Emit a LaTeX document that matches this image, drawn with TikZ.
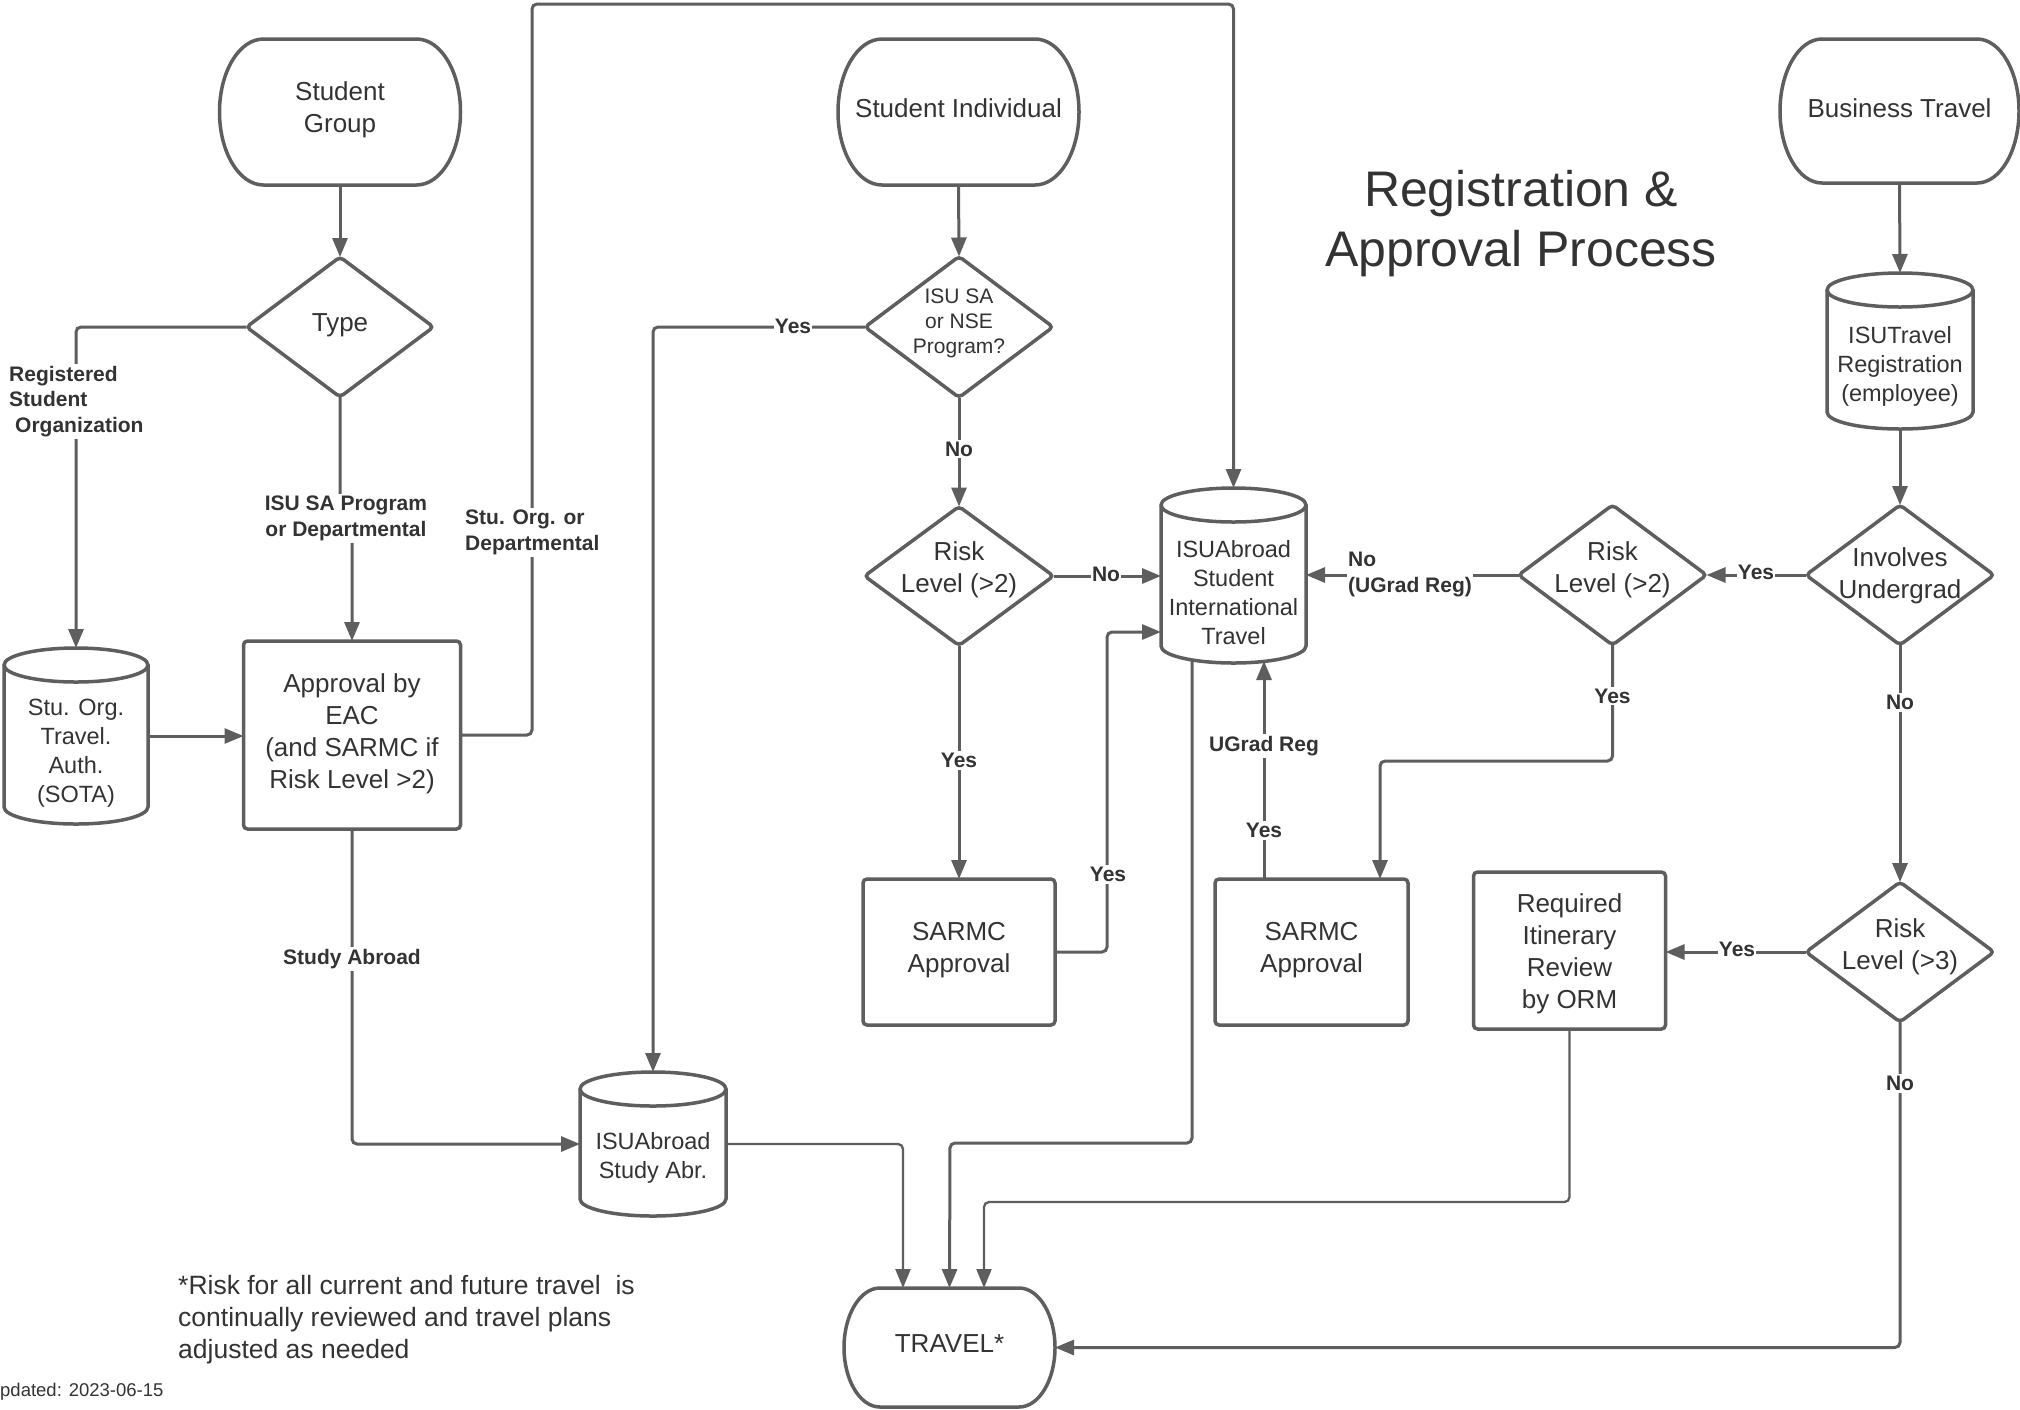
\documentclass[tikz,border=0pt]{standalone}
\usepackage{fontspec}
\setmainfont{Liberation Sans}
\usetikzlibrary{arrows.meta}
\definecolor{ln}{HTML}{5E5E5E}
\definecolor{tx}{HTML}{333333}
\tikzset{
  box/.style={draw=none, inner sep=0pt, outer sep=0pt},
  shp/.style={draw=ln, line width=3.5pt},
  txt/.style={text=tx, align=center, inner sep=0pt, font=\fontsize{26}{32}\selectfont},
  ctxt/.style={txt, font=\fontsize{23.5}{29}\selectfont},
  conn/.style={draw=ln, line width=3pt, rounded corners=5pt, -{Triangle[length=19pt,width=15pt]}},
  thinconn/.style={conn, line width=2.3pt},
  lbl/.style={text=tx, font=\fontsize{21}{25.5}\selectfont\bfseries, fill=white, inner sep=2pt, align=center},
}
% terminal: name, x, y, w, h, rx, text
\newcommand\termnode[8][]{%
  \node[box, minimum width=#5pt, minimum height=#6pt] (#2) at (#3,#4) {};
  \draw[shp] ([xshift=#7pt]#2.north west) -- ([xshift=-#7pt]#2.north east)
    arc[start angle=90, end angle=-90, x radius=#7pt, y radius=0.5*#6pt]
    -- ([xshift=#7pt]#2.south west)
    arc[start angle=270, end angle=90, x radius=#7pt, y radius=0.5*#6pt] -- cycle;
  \node[txt, #1] (#2-t) at (#2.center) {#8};
}
% cylinder: name, x, y, w, h, ry, text
\newcommand\cylnode[8][]{%
  \node[box, minimum width=#5pt, minimum height=#6pt] (#2) at (#3,#4) {};
  \draw[shp] ([yshift=-#7pt]#2.north west) -- ([yshift=#7pt]#2.south west)
    arc[start angle=180, end angle=360, x radius=0.5*#5pt, y radius=#7pt]
    -- ([yshift=-#7pt]#2.north east)
    arc[start angle=0, end angle=180, x radius=0.5*#5pt, y radius=#7pt] -- cycle;
  \draw[shp] ([yshift=-#7pt]#2.north west)
    arc[start angle=180, end angle=360, x radius=0.5*#5pt, y radius=#7pt];
  \node[ctxt, #1] (#2-t) at (#2.center) {#8};
}
% diamond: name, x, y, w, h, text
\newcommand\dianode[7][]{%
  \node[box, minimum width=#5pt, minimum height=#6pt] (#2) at (#3,#4) {};
  \draw[shp, rounded corners=4pt] (#2.north) -- (#2.east) -- (#2.south) -- (#2.west) -- cycle;
  \node[txt, #1] (#2-t) at (#2.center) {#7};
}
% rectangle: name, x, y, w, h, text
\newcommand\rectnode[7][]{%
  \node[box, shp, rounded corners=4pt, minimum width=#5pt, minimum height=#6pt] (#2) at (#3,#4) {};
  \node[txt, #1] (#2-t) at (#2.center) {#7};
}
\begin{document}
\begin{tikzpicture}[x=1pt, y=-1pt]
\useasboundingbox (0,0) rectangle (2020,1409);
\fill[white] (0,0) rectangle (2020,1409);

% title
\node[text=tx, align=center, inner sep=0pt, font=\fontsize{50}{60}\selectfont] (title) at (1521,224) {Registration \&\\Approval Process};

% terminals
\termnode[yshift=2.5pt]{sg}{340}{112}{241}{146}{44}{Student\\Group}
\termnode[yshift=4pt]{si}{958.5}{112}{241}{146}{44}{Student Individual}
\termnode[yshift=3pt]{bt}{1899.5}{111}{239}{144}{42}{Business Travel}
\termnode[yshift=4pt]{travel}{949.5}{1347.5}{211}{119}{36}{TRAVEL*}

% diamonds
\dianode[yshift=1.5pt]{type}{340}{327}{187}{140}{Type}
\dianode[yshift=4pt, font=\fontsize{21}{25}\selectfont]{isusa}{959}{327}{188}{141}{ISU SA\\or NSE\\Program?}
\dianode[yshift=6pt]{riska}{959}{576}{189}{139}{Risk\\Level (>2)}
\dianode[yshift=5.5pt]{riskb}{1612.5}{575}{188}{140}{Risk\\Level (>2)}
\dianode[yshift=-0.5pt]{inv}{1900}{575}{188}{140}{Involves\\Undergrad}
\dianode[yshift=5.5pt]{riskc}{1900}{952}{188}{140}{Risk\\Level (>3)}

% rectangles
\rectnode[yshift=1.5pt]{eac}{352}{735}{217}{188}{Approval by\\EAC\\(and SARMC if\\Risk Level >2)}
\rectnode[yshift=1.5pt]{sarmca}{959}{952}{192}{146}{SARMC\\Approval}
\rectnode[yshift=1.5pt]{sarmcb}{1311.5}{952}{193}{146}{SARMC\\Approval}
\rectnode[yshift=-3pt]{orm}{1569.5}{950.5}{192}{157}{Required\\Itinerary\\Review\\by ORM}

% cylinders
\cylnode[yshift=-17.5pt]{sota}{76}{736}{144}{176}{17}{Stu. Org.\\Travel.\\Auth.\\(SOTA)}
\cylnode[yshift=-17pt]{isuab}{1233.5}{575.5}{145}{175}{17}{ISUAbroad\\Student\\International\\Travel}
\cylnode[yshift=-14pt]{isusab}{653}{1144}{146}{144}{17}{ISUAbroad\\Study Abr.}
\cylnode[yshift=-15.5pt]{isut}{1900}{351}{146}{156}{17}{ISUTravel\\Registration\\(employee)}

% connectors - left
\draw[conn] (sg.south) -- (type.north);
\draw[conn] (type.west) -- (76,327) -- (sota.north);
\node[lbl, align=left, anchor=west] (lregorg) at (7,401.5) {Registered\\Student\\\hspace*{6pt}Organization};
\draw[conn] (type.south) -- (340,518) -- (352,518) -- (eac.north);
\node[lbl] (lisusap) at (346,518.5) {ISU SA Program\\or Departmental};
\draw[conn] (sota.east) -- (sota.east -| eac.west);
\draw[conn] (eac.east) -- (532,735) -- (532,4) -- (1233.5,4) -- (isuab.north);
\node[lbl, align=left, anchor=west] (lstuorg) at (463,532.5) {Stu. Org. or\\Departmental};
\draw[conn] (eac.south) -- (352,1144) -- (isusab.west);
\node[lbl] (lstudyab) at (352,959) {Study Abroad};

% middle
\draw[conn] (si.south) -- (isusa.north);
\draw[conn] (isusa.west) -- (653,327) -- (isusab.north);
\node[lbl, inner sep=1pt] (lyes1) at (793,326) {Yes};
\draw[conn] (isusa.south) -- (riska.north);
\node[lbl] (lno1) at (959,449) {No};
\draw[conn] (riska.east) -- (isuab.west |- riska.east);
\node[lbl, inner sep=1pt] (lno2) at (1106,574) {No};
\draw[conn] (riska.south) -- (sarmca.north);
\node[lbl] (lyes2) at (959,760.5) {Yes};
\draw[conn] (sarmca.east) -- (1107,952) -- (1107,632) -- ([yshift=-56.5pt]isuab.west);
\node[lbl] (lyes3) at (1108,874.5) {Yes};
\draw[conn] ([xshift=-41.5pt,yshift=3pt]isuab.south) -- (1192,1143) -- (950,1143) -- (travel.north);
\draw[thinconn] (isusab.east) -- (903,1144) -- ([xshift=-46.5pt]travel.north);

% right
\draw[conn] (bt.south) -- (isut.north);
\draw[conn] (isut.south) -- (inv.north);
\draw[conn] (inv.west) -- (riskb.east);
\node[lbl, inner sep=1pt] (lyes4) at (1756,572.5) {Yes};
\draw[conn] (riskb.west) -- (isuab.east |- riskb.west);
\node[lbl, align=left, anchor=west, inner sep=1pt] (lno3) at (1347,574.5) {No\\(UGrad Reg)};
\draw[conn] (riskb.south) -- (1612.5,761) -- (1380,761) -- ([xshift=68.5pt]sarmcb.north);
\node[lbl] (lyes5) at (1612.5,696) {Yes};
\draw[conn] ([xshift=-47.5pt]sarmcb.north) -- ([xshift=30.5pt,yshift=2pt]isuab.south);
\node[lbl] (lugrad) at (1264,746) {UGrad Reg};
\node[lbl] (lyes6) at (1264,830.5) {Yes};
\draw[conn] (inv.south) -- (riskc.north);
\node[lbl] (lno4) at (1900,702.5) {No};
\draw[conn] (riskc.west) -- (orm.east |- riskc.west);
\node[lbl, inner sep=1pt] (lyes7) at (1737,949.5) {Yes};
\draw[thinconn] (orm.south) -- (1569.5,1202) -- (984,1202) -- ([xshift=34.5pt]travel.north);
\draw[conn] (riskc.south) -- (1900,1347.5) -- (travel.east);
\node[lbl] (lno5) at (1900,1083.5) {No};

% notes
\node[text=tx, align=left, anchor=west, inner sep=0pt, font=\fontsize{26.5}{32}\selectfont] (note) at (178,1320) {*Risk for all current and future travel\ \ is\\continually reviewed and travel plans\\adjusted as needed};
\node[text=tx, anchor=west, inner sep=0pt, font=\fontsize{18.5}{22}\selectfont] (upd) at (0,1392) {pdated: 2023-06-15};
\end{tikzpicture}
\end{document}
